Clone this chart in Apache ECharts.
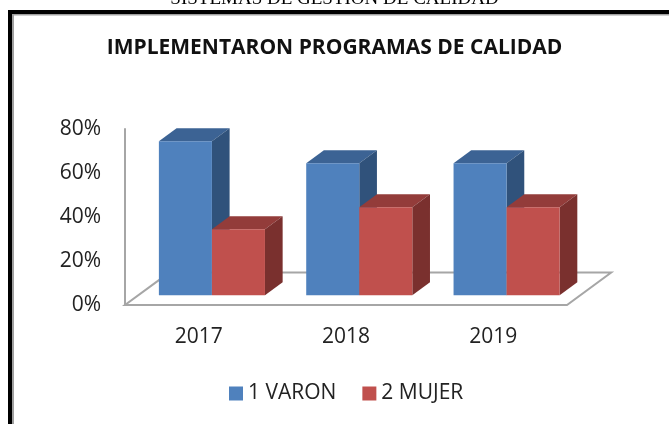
<!DOCTYPE html>
<html>
<head>
<meta charset="utf-8">
<script src="https://cdn.jsdelivr.net/npm/echarts@6/dist/echarts.min.js"></script>
<style>
html,body{margin:0;padding:0;background:#fff;}
#chart{width:669px;height:424px;}
</style>
</head>
<body>
<div id="chart"></div>
<script>
const categories = ['2017', '2018', '2019'];
const seriesNames = ['1 VARON', '2 MUJER'];
const varon = [70, 60, 60];
const mujer = [30, 40, 40];
const yTicks = [0, 20, 40, 60, 80];

const faceColors = [
  {front: '#4F81BD', top: '#3C6394', side: '#30527B'},
  {front: '#C0504D', top: '#933C3A', side: '#7A302E'}
];

function barRender(si) {
  return function (params, api) {
    const cat = api.value(0), val = api.value(1);
    const base = api.coord([cat, 0]);
    const topP = api.coord([cat, val]);
    const band = api.size([1, 0])[0];
    const dX = 0.30 * band, dY = -0.22 * band;
    const fx = 0.3 * dX, fy = 0.3 * dY;
    const bx = 0.4 * dX, by = 0.4 * dY;
    const w = 0.36 * band;
    const x0 = base[0] + fx + (si === 0 ? -w : 0);
    const x1 = x0 + w;
    const y0 = base[1] + fy, y1 = topP[1] + fy;
    const c = faceColors[si];
    return {
      type: 'group',
      children: [
        {type: 'polygon', shape: {points: [[x0, y1], [x1, y1], [x1 + bx, y1 + by], [x0 + bx, y1 + by]]}, style: {fill: c.top}},
        {type: 'polygon', shape: {points: [[x1, y1], [x1 + bx, y1 + by], [x1 + bx, y0 + by], [x1, y0]]}, style: {fill: c.side}},
        {type: 'rect', shape: {x: x0, y: y1, width: w, height: y0 - y1}, style: {fill: c.front}}
      ]
    };
  };
}

function floorRender(params, api) {
  const cs = params.coordSys;
  const band = api.size([1, 0])[0];
  const dX = 0.30 * band, dY = -0.22 * band;
  const yf = cs.y + cs.height;
  const xl = cs.x, xr = cs.x + cs.width;
  return {
    type: 'polygon',
    shape: {points: [[xl, yf], [xr, yf], [xr + dX, yf + dY], [xl + dX, yf + dY]]},
    style: {fill: '#fff', stroke: '#A6A6A6', lineWidth: 2}
  };
}

const chart = echarts.init(document.getElementById('chart'));
chart.setOption({
  backgroundColor: '#fff',
  animation: false,
  title: {
    text: 'IMPLEMENTARON PROGRAMAS DE CALIDAD',
    left: 'center',
    top: 33,
    textStyle: {fontFamily: 'Open Sans', fontWeight: 'bold', fontSize: 21, color: '#111'}
  },
  legend: {
    data: seriesNames,
    left: 224,
    top: 378,
    icon: 'rect',
    itemWidth: 14,
    itemHeight: 14,
    itemGap: 26,
    textStyle: {fontFamily: 'Open Sans', fontSize: 21, color: '#222'}
  },
  grid: {left: 125, right: 102, top: 129, bottom: 119},
  xAxis: {
    type: 'category',
    data: categories,
    axisLine: {show: false},
    axisTick: {show: false},
    axisLabel: {fontFamily: 'Open Sans', fontSize: 21, color: '#222', margin: 22}
  },
  yAxis: {
    type: 'value',
    min: yTicks[0],
    max: yTicks[yTicks.length - 1],
    interval: 20,
    axisLine: {show: true, lineStyle: {color: '#A6A6A6', width: 2}},
    axisTick: {show: false},
    splitLine: {show: false},
    axisLabel: {formatter: '{value}%', fontFamily: 'Open Sans', fontSize: 21, color: '#222', margin: 24}
  },
  graphic: [
    {type: 'text', left: 'center', top: -10, style: {text: 'SISTEMAS DE GESTION DE CALIDAD', font: '19px "Liberation Serif"', fill: '#000'}, z: 10},
    {type: 'rect', shape: {x: 12, y: 14, width: 2, height: 410}, style: {fill: '#A0A0A0'}, z: 10},
    {type: 'rect', shape: {x: 12, y: 14, width: 657, height: 1.5}, style: {fill: '#A0A0A0'}, z: 10},
    {type: 'rect', shape: {x: 8, y: 10, width: 4, height: 414}, style: {fill: '#000'}, z: 11},
    {type: 'rect', shape: {x: 8, y: 10, width: 661, height: 4}, style: {fill: '#000'}, z: 11}
  ],
  series: [
    {type: 'custom', name: 'floor', data: [[0, 0]], renderItem: floorRender, z: 1, silent: true},
    {type: 'custom', name: seriesNames[0], data: varon.map((v, i) => [i, v]), renderItem: barRender(0), itemStyle: {color: faceColors[0].front}, encode: {x: 0, y: 1}, z: 2},
    {type: 'custom', name: seriesNames[1], data: mujer.map((v, i) => [i, v]), renderItem: barRender(1), itemStyle: {color: faceColors[1].front}, encode: {x: 0, y: 1}, z: 3}
  ]
});
</script>
</body>
</html>
